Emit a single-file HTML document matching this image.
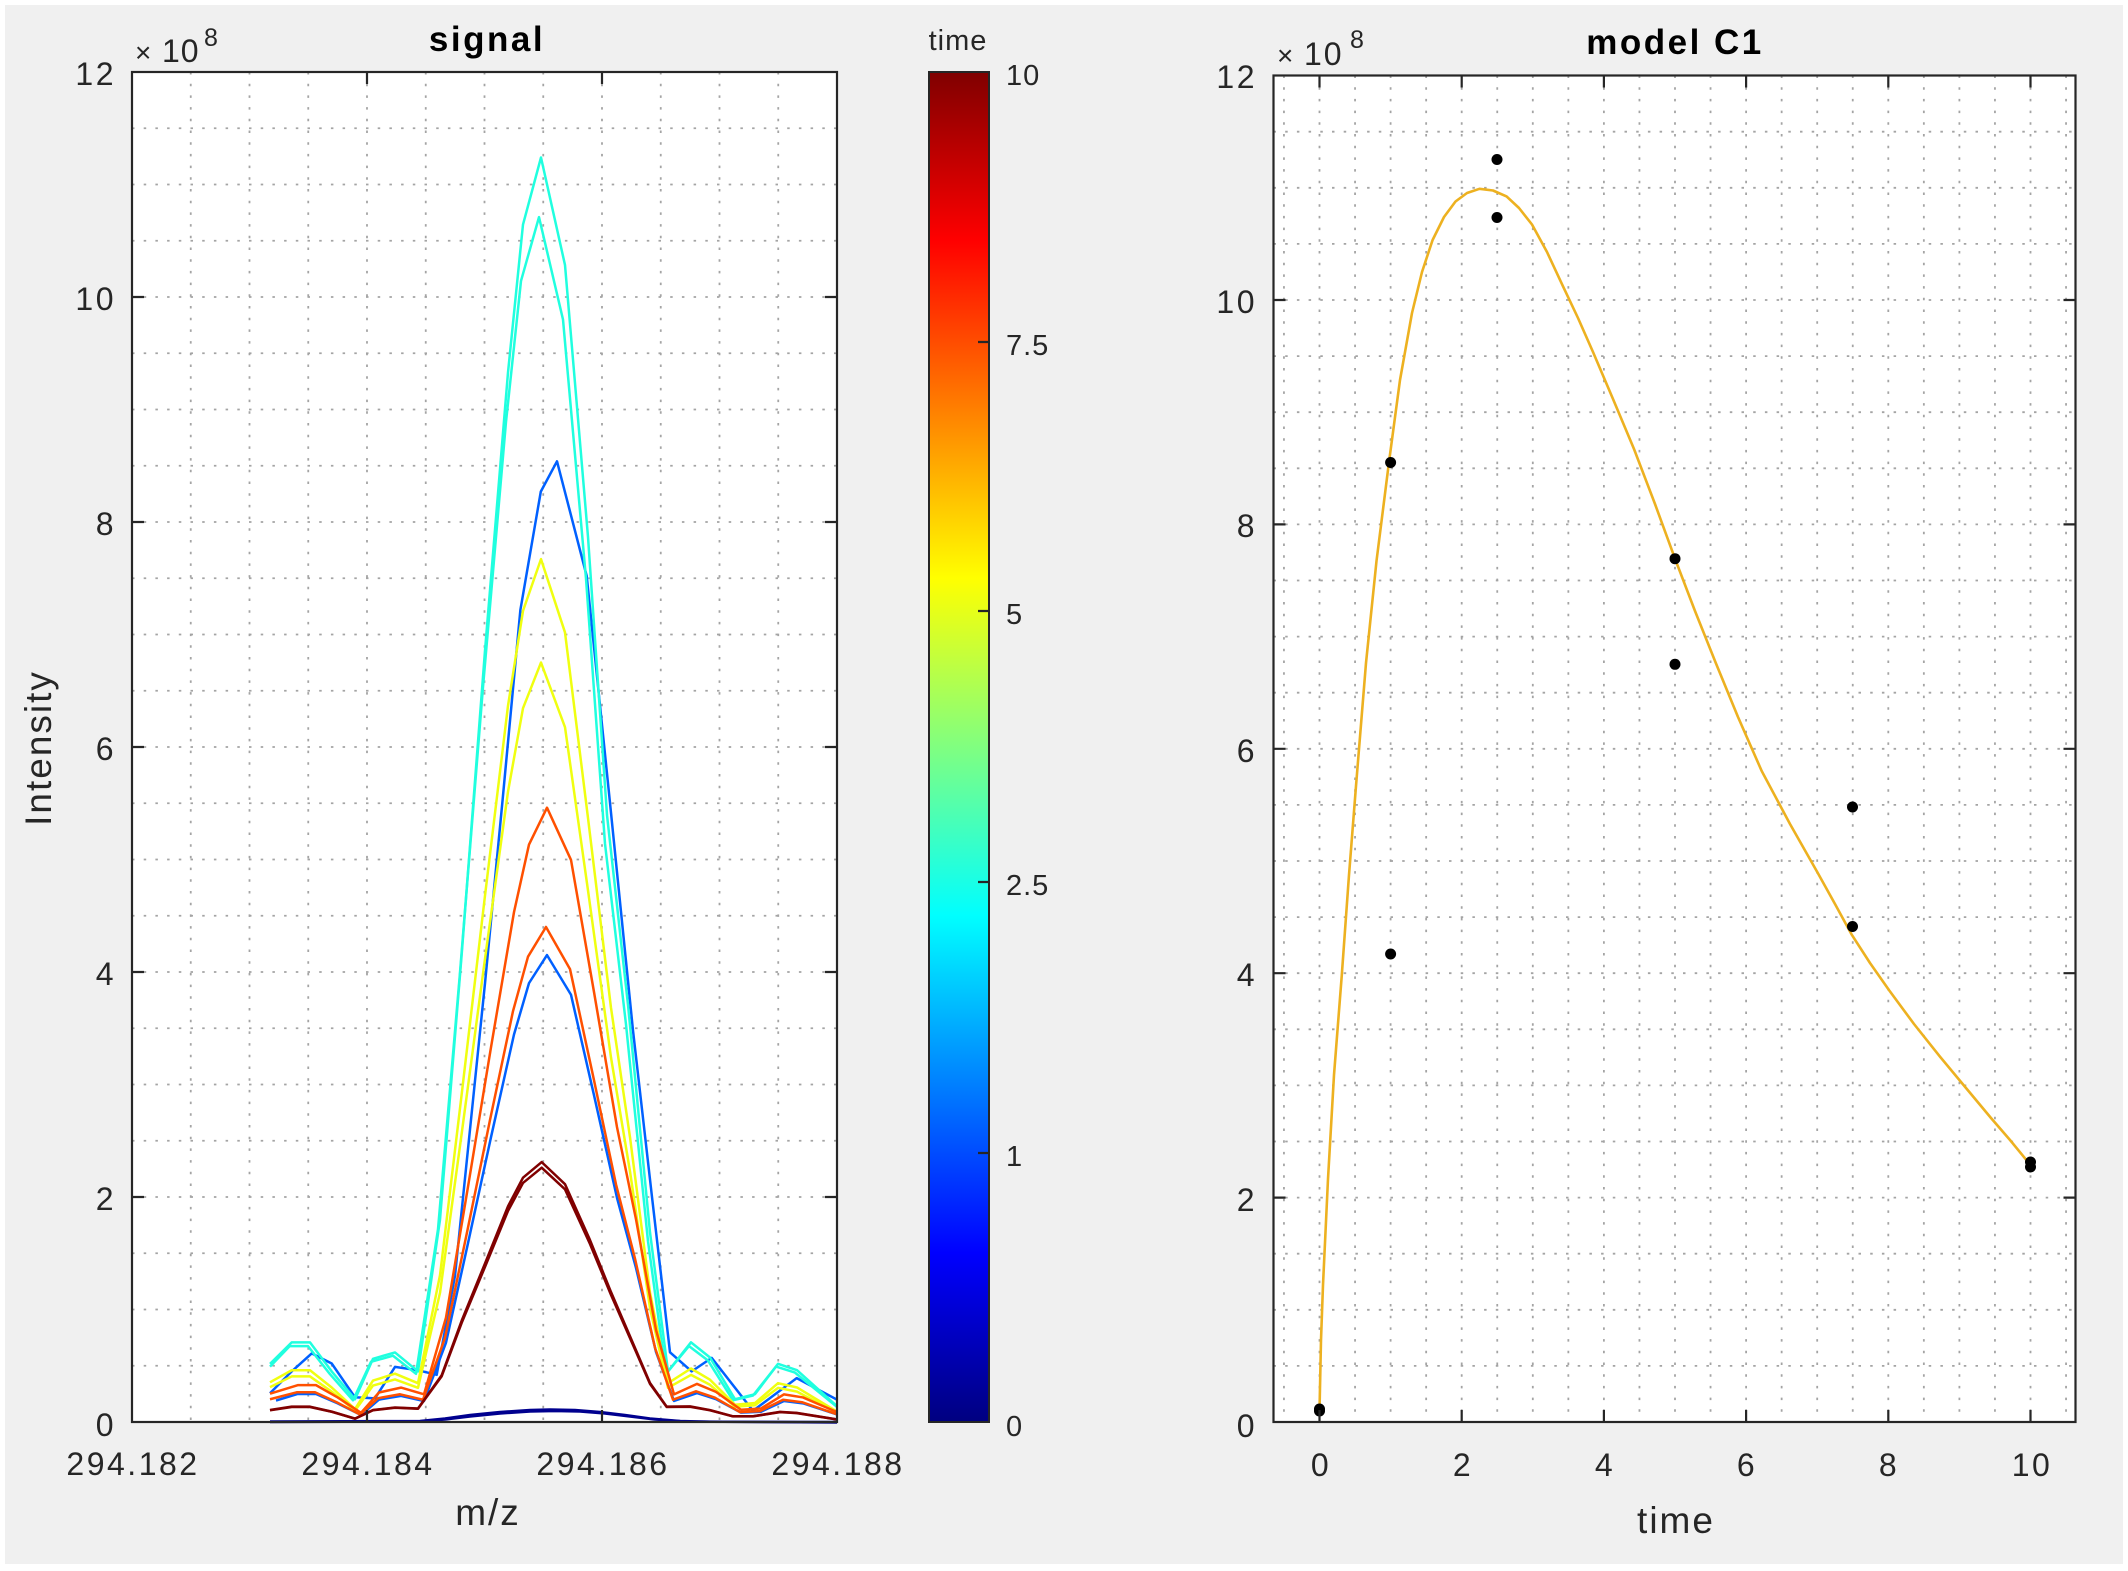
<!DOCTYPE html>
<html>
<head>
<meta charset="utf-8">
<style>
html,body{margin:0;padding:0;background:#fff;}
svg{display:block;}
text{font-family:"Liberation Sans",Arial,sans-serif;fill:#262626;}
.tk{font-size:32px;letter-spacing:2.5px;}
.cb{font-size:29px;letter-spacing:1px;}
.ttl{font-size:35px;font-weight:bold;fill:#000;letter-spacing:2.5px;}
.lbl{font-size:37px;letter-spacing:2px;}
.grid{fill:none;stroke:#a4a4a4;stroke-width:1.8;stroke-dasharray:2.5 9.2;}
.ax{fill:none;stroke:#262626;stroke-width:2.2;}
.sp{fill:none;stroke-width:2.5;stroke-linejoin:round;}
</style>
</head>
<body>
<svg width="2128" height="1571" viewBox="0 0 2128 1571" xmlns="http://www.w3.org/2000/svg">
<defs>
<linearGradient id="jet" x1="0" y1="0" x2="0" y2="1">
<stop offset="0" stop-color="#800000"/>
<stop offset="0.125" stop-color="#ff0000"/>
<stop offset="0.375" stop-color="#ffff00"/>
<stop offset="0.5" stop-color="#80ff80"/>
<stop offset="0.625" stop-color="#00ffff"/>
<stop offset="0.875" stop-color="#0000ff"/>
<stop offset="1" stop-color="#000080"/>
</linearGradient>
<clipPath id="cl"><rect x="132" y="72" width="705" height="1352"/></clipPath>
<clipPath id="cr"><rect x="1273.5" y="75.5" width="802" height="1348"/></clipPath>
</defs>

<rect x="5" y="5" width="2118" height="1559" fill="#f0f0f0"/>

<!-- LEFT AXES -->
<rect x="132" y="72" width="705" height="1350" fill="#fff"/>
<path class="grid" d="M190.75,72V1422M249.5,72V1422M308.25,72V1422M367,72V1422M425.75,72V1422M484.5,72V1422M543.25,72V1422M602,72V1422M660.75,72V1422M719.5,72V1422M778.25,72V1422"/>
<path class="grid" d="M132,128.25H837M132,184.5H837M132,240.75H837M132,297H837M132,353.25H837M132,409.5H837M132,465.75H837M132,522H837M132,578.25H837M132,634.5H837M132,690.75H837M132,747H837M132,803.25H837M132,859.5H837M132,915.75H837M132,972H837M132,1028.25H837M132,1084.5H837M132,1140.75H837M132,1197H837M132,1253.25H837M132,1309.5H837M132,1365.75H837"/>

<g clip-path="url(#cl)">
<!-- t=0 -->
<path class="sp" stroke="#00008f" d="M270,1421.5 L420,1421 L445,1418.5 L470,1415 L500,1412 L530,1410 L550,1409.5 L575,1410 L600,1412 L625,1415 L650,1418.5 L680,1421 L710,1421.8 L837,1422"/>
<path class="sp" stroke="#00008f" d="M270,1422 L420,1421.5 L445,1419.5 L470,1416.5 L500,1413.5 L530,1411.5 L555,1411 L580,1411.5 L605,1413.5 L630,1416.5 L655,1419.5 L685,1421.5 L837,1422.5"/>
<!-- t=1 -->
<path class="sp" stroke="#0060ff" d="M270,1393.3 L291.7,1371.4 L311.7,1353.4 L331.7,1363.5 L355,1397.3 L375,1398.4 L395,1366.9 L418.3,1370.3 L436.7,1374.8 L455,1275.8 L470,1129.5 L485,983.3 L502.6,799.9 L520.4,609.8 L540.8,491.6 L557,461.3 L586.7,576 L609.7,799.9 L633,1030.5 L652,1197 L670,1352.3 L691.7,1371.4 L711.7,1357.9 L753,1410.8 L796.7,1378.1 L836.7,1399.5"/>
<path class="sp" stroke="#0060ff" vector-effect="non-scaling-stroke" transform="translate(6,1422) scale(1,-466.9)" d="M270,0.046 L291.7,0.06 L310,0.06 L331.7,0.04 L355,0.015 L373,0.048 L395,0.056 L418,0.045 L440,0.17 L461.7,0.38 L485,0.61 L508,0.83 L523,0.94 L541,1 L565,0.915 L588,0.7 L611,0.48 L630,0.33 L650,0.15 L668,0.045 L691,0.062 L710,0.049 L735,0.02 L755,0.022 L778,0.045 L797,0.04 L837,0.012"/>
<!-- t=2.5 -->
<path class="sp" stroke="#20ffdf" vector-effect="non-scaling-stroke" transform="translate(0,1422) scale(1,-1264.5)" d="M270,0.046 L291.7,0.063 L310,0.063 L331.7,0.04 L355,0.018 L373,0.05 L395,0.055 L418,0.04 L440,0.16 L461.7,0.37 L485,0.61 L508,0.83 L523,0.947 L541,1 L565,0.915 L588,0.7 L607,0.48 L628,0.33 L650,0.15 L668,0.04 L691,0.063 L710,0.051 L735,0.018 L755,0.022 L778,0.046 L797,0.041 L837,0.0125"/>
<path class="sp" stroke="#20ffdf" vector-effect="non-scaling-stroke" transform="translate(-2,1422) scale(1,-1204.9)" d="M272,0.046 L291.7,0.063 L310,0.063 L331.7,0.04 L355,0.018 L373,0.05 L395,0.055 L418,0.04 L440,0.16 L461.7,0.37 L485,0.61 L508,0.83 L523,0.947 L541,1 L565,0.915 L588,0.7 L607,0.48 L628,0.33 L650,0.15 L668,0.04 L691,0.063 L710,0.051 L735,0.018 L755,0.022 L778,0.046 L797,0.041 L839,0.0125"/>
<!-- t=5 -->
<path class="sp" stroke="#f0ff10" vector-effect="non-scaling-stroke" transform="translate(0,1422) scale(1,-862.9)" d="M270,0.046 L291.7,0.06 L310,0.06 L331.7,0.04 L355,0.015 L373,0.048 L395,0.056 L418,0.045 L440,0.17 L461.7,0.38 L485,0.61 L508,0.83 L523,0.94 L541,1 L565,0.915 L588,0.7 L611,0.48 L630,0.33 L650,0.15 L668,0.045 L691,0.062 L710,0.049 L735,0.02 L755,0.022 L778,0.045 L797,0.04 L837,0.012"/>
<path class="sp" stroke="#f0ff10" vector-effect="non-scaling-stroke" transform="translate(0,1422) scale(1,-759.4)" d="M270,0.046 L291.7,0.06 L310,0.06 L331.7,0.04 L355,0.015 L373,0.048 L395,0.056 L418,0.045 L440,0.17 L461.7,0.38 L485,0.61 L508,0.83 L523,0.94 L541,1 L565,0.915 L588,0.7 L611,0.48 L630,0.33 L650,0.15 L668,0.045 L691,0.062 L710,0.049 L735,0.02 L755,0.022 L778,0.045 L797,0.04 L837,0.012"/>
<!-- t=7.5 -->
<path class="sp" stroke="#ff5000" vector-effect="non-scaling-stroke" transform="translate(6,1422) scale(1,-614.3)" d="M264,0.046 L291.7,0.06 L310,0.06 L331.7,0.04 L355,0.015 L373,0.048 L395,0.056 L418,0.045 L440,0.17 L461.7,0.38 L485,0.61 L508,0.83 L523,0.94 L541,1 L565,0.915 L588,0.7 L611,0.48 L630,0.33 L650,0.15 L668,0.045 L691,0.062 L710,0.049 L735,0.02 L755,0.022 L778,0.045 L797,0.04 L837,0.012"/>
<path class="sp" stroke="#ff5000" vector-effect="non-scaling-stroke" transform="translate(5,1422) scale(1,-495)" d="M265,0.046 L291.7,0.06 L310,0.06 L331.7,0.04 L355,0.015 L373,0.048 L395,0.056 L418,0.045 L440,0.17 L461.7,0.38 L485,0.61 L508,0.83 L523,0.94 L541,1 L565,0.915 L588,0.7 L611,0.48 L630,0.33 L650,0.15 L668,0.045 L691,0.062 L710,0.049 L735,0.02 L755,0.022 L778,0.045 L797,0.04 L837,0.012"/>
<!-- t=10 -->
<path class="sp" stroke="#800000" vector-effect="non-scaling-stroke" transform="translate(0,1422) scale(1,-259.9)" d="M270,0.046 L291.7,0.059 L310,0.059 L331.7,0.04 L355,0.013 L373,0.046 L395,0.056 L418,0.052 L441.7,0.18 L461.7,0.39 L485,0.61 L508,0.83 L523,0.94 L541.7,1 L565,0.915 L590,0.7 L611,0.5 L630,0.33 L650,0.15 L666.7,0.059 L690,0.06 L710,0.046 L733,0.022 L753,0.022 L780,0.039 L796.7,0.035 L837,0.01"/>
<path class="sp" stroke="#800000" vector-effect="non-scaling-stroke" transform="translate(0,1422) scale(1,-254.3)" d="M270,0.046 L291.7,0.059 L310,0.059 L331.7,0.04 L355,0.013 L373,0.046 L395,0.056 L418,0.052 L441.7,0.18 L461.7,0.39 L485,0.61 L508,0.83 L523,0.94 L541.7,1 L565,0.915 L590,0.7 L611,0.5 L630,0.33 L650,0.15 L666.7,0.059 L690,0.06 L710,0.046 L733,0.022 L753,0.022 L780,0.039 L796.7,0.035 L837,0.01"/>
</g>

<rect class="ax" x="132" y="72" width="705" height="1350"/>
<path class="ax" d="M367,1422V1410M602,1422V1410M367,72V84M602,72V84M132,297H144M132,522H144M132,747H144M132,972H144M132,1197H144M837,297H825M837,522H825M837,747H825M837,972H825M837,1197H825"/>

<text class="tk" x="116" y="85" text-anchor="end">12</text>
<text class="tk" x="116" y="310" text-anchor="end">10</text>
<text class="tk" x="116" y="535" text-anchor="end">8</text>
<text class="tk" x="116" y="760" text-anchor="end">6</text>
<text class="tk" x="116" y="985" text-anchor="end">4</text>
<text class="tk" x="116" y="1210" text-anchor="end">2</text>
<text class="tk" x="116" y="1436" text-anchor="end">0</text>

<text class="tk" x="133" y="1475" text-anchor="middle">294.182</text>
<text class="tk" x="368" y="1475" text-anchor="middle">294.184</text>
<text class="tk" x="603" y="1475" text-anchor="middle">294.186</text>
<text class="tk" x="838" y="1475" text-anchor="middle">294.188</text>

<text class="lbl" x="488" y="1525" text-anchor="middle">m/z</text>
<text class="lbl" transform="translate(51,748) rotate(-90)" x="0" y="0" text-anchor="middle">Intensity</text>
<text class="ttl" x="487" y="51" text-anchor="middle">signal</text>
<text x="135" y="62" style="font-size:28px">×</text>
<text x="162" y="62" style="font-size:32px;letter-spacing:1px">10</text>
<text x="204" y="46" style="font-size:25px">8</text>

<!-- COLORBAR -->
<text class="cb" x="958" y="50" text-anchor="middle">time</text>
<rect x="929" y="72" width="60" height="1350" fill="url(#jet)" stroke="#262626" stroke-width="2"/>
<path class="ax" d="M989,342H978M989,611H978M989,882H978M989,1153H978"/>
<text class="cb" x="1006" y="85">10</text>
<text class="cb" x="1006" y="355">7.5</text>
<text class="cb" x="1006" y="624">5</text>
<text class="cb" x="1006" y="895">2.5</text>
<text class="cb" x="1006" y="1166">1</text>
<text class="cb" x="1006" y="1436">0</text>

<!-- RIGHT AXES -->
<rect x="1273.5" y="75.5" width="802" height="1346.5" fill="#fff"/>
<path class="grid" d="M1283.95,75.5V1422M1319.5,75.5V1422M1355.05,75.5V1422M1390.6,75.5V1422M1426.15,75.5V1422M1461.7,75.5V1422M1497.25,75.5V1422M1532.8,75.5V1422M1568.35,75.5V1422M1603.9,75.5V1422M1639.45,75.5V1422M1675,75.5V1422M1710.55,75.5V1422M1746.1,75.5V1422M1781.65,75.5V1422M1817.2,75.5V1422M1852.75,75.5V1422M1888.3,75.5V1422M1923.85,75.5V1422M1959.4,75.5V1422M1994.95,75.5V1422M2030.5,75.5V1422M2066.05,75.5V1422"/>
<path class="grid" d="M1273.5,1365.9H2075.5M1273.5,1309.8H2075.5M1273.5,1253.7H2075.5M1273.5,1197.6H2075.5M1273.5,1141.5H2075.5M1273.5,1085.4H2075.5M1273.5,1029.3H2075.5M1273.5,973.2H2075.5M1273.5,917.1H2075.5M1273.5,861H2075.5M1273.5,804.9H2075.5M1273.5,748.8H2075.5M1273.5,692.7H2075.5M1273.5,636.6H2075.5M1273.5,580.5H2075.5M1273.5,524.4H2075.5M1273.5,468.3H2075.5M1273.5,412.2H2075.5M1273.5,356.1H2075.5M1273.5,300H2075.5M1273.5,243.9H2075.5M1273.5,187.8H2075.5M1273.5,131.7H2075.5"/>

<g clip-path="url(#cr)">
<polyline fill="none" stroke="#edb120" stroke-width="2.6" stroke-linejoin="round" stroke-linecap="round" points="1319.5,1411 1321,1340 1323,1285 1328,1179 1334,1075 1341.8,975 1349,875 1356,786 1366,663 1376.5,561 1389,462 1400,380 1412,313 1422,272 1432.6,240 1444,217 1455.5,201.5 1467,193 1479.5,188.8 1493,190.5 1506.6,196.4 1519,208 1532,224.5 1547,252 1562.7,285.7 1578,318 1593,352 1613,399 1634,449 1655,504 1675,558.7 1695,611 1715.8,663 1738,717 1761.7,771 1790,824 1817.8,873 1835,904 1851.5,934.3 1870,963 1889.2,990.4 1914,1024 1940,1056.7 1966,1088 1991,1118 2010,1140 2029.5,1163.8"/>
<g fill="#000">
<circle cx="1319.5" cy="1411" r="5.5"/>
<circle cx="1319.5" cy="1409" r="5.5"/>
<circle cx="1390.6" cy="462.5" r="5.5"/>
<circle cx="1390.6" cy="954" r="5.5"/>
<circle cx="1497" cy="159.5" r="5.5"/>
<circle cx="1497" cy="217.5" r="5.5"/>
<circle cx="1675" cy="558.7" r="5.5"/>
<circle cx="1675" cy="664.3" r="5.5"/>
<circle cx="1852.5" cy="807" r="5.5"/>
<circle cx="1852.5" cy="926.5" r="5.5"/>
<circle cx="2030.5" cy="1162" r="5.5"/>
<circle cx="2030.5" cy="1167" r="5.5"/>
</g>
</g>

<rect class="ax" x="1273.5" y="75.5" width="802" height="1346.5"/>
<path class="ax" d="M1319.5,1422V1410M1461.7,1422V1410M1603.9,1422V1410M1746.1,1422V1410M1888.3,1422V1410M2030.5,1422V1410M1319.5,75.5V87.5M1461.7,75.5V87.5M1603.9,75.5V87.5M1746.1,75.5V87.5M1888.3,75.5V87.5M2030.5,75.5V87.5M1273.5,300H1285.5M1273.5,524.4H1285.5M1273.5,748.8H1285.5M1273.5,973.2H1285.5M1273.5,1197.6H1285.5M2075.5,300H2063.5M2075.5,524.4H2063.5M2075.5,748.8H2063.5M2075.5,973.2H2063.5M2075.5,1197.6H2063.5"/>

<text class="tk" x="1257" y="88" text-anchor="end">12</text>
<text class="tk" x="1257" y="313" text-anchor="end">10</text>
<text class="tk" x="1257" y="537" text-anchor="end">8</text>
<text class="tk" x="1257" y="762" text-anchor="end">6</text>
<text class="tk" x="1257" y="986" text-anchor="end">4</text>
<text class="tk" x="1257" y="1211" text-anchor="end">2</text>
<text class="tk" x="1257" y="1437" text-anchor="end">0</text>

<text class="tk" x="1321" y="1476" text-anchor="middle">0</text>
<text class="tk" x="1463" y="1476" text-anchor="middle">2</text>
<text class="tk" x="1605" y="1476" text-anchor="middle">4</text>
<text class="tk" x="1747" y="1476" text-anchor="middle">6</text>
<text class="tk" x="1889" y="1476" text-anchor="middle">8</text>
<text class="tk" x="2032" y="1476" text-anchor="middle">10</text>

<text class="lbl" x="1676" y="1533" text-anchor="middle">time</text>
<text class="ttl" x="1675" y="54" text-anchor="middle">model C1</text>
<text x="1277" y="65" style="font-size:28px">×</text>
<text x="1304" y="65" style="font-size:32px;letter-spacing:2px">10</text>
<text x="1350" y="48" style="font-size:25px">8</text>
</svg>
</body>
</html>
